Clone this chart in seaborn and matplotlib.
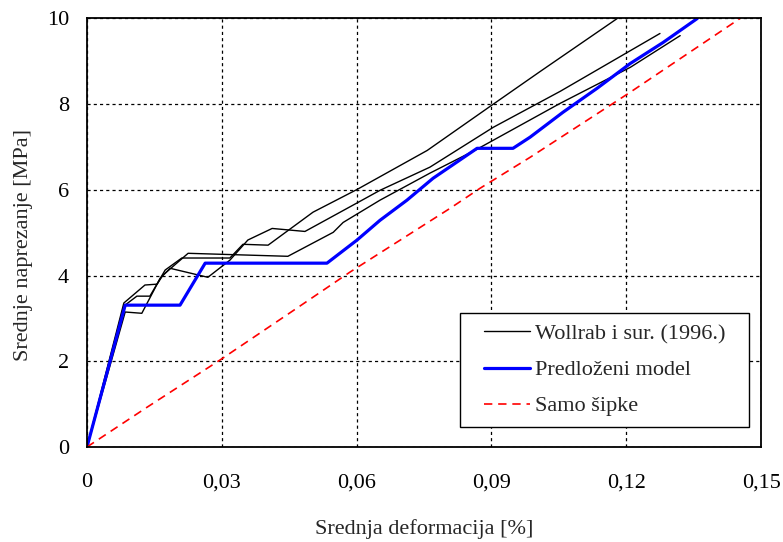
import matplotlib
matplotlib.use("Agg")
import matplotlib.pyplot as plt
import seaborn as sns
import pandas as pd
from matplotlib.path import Path

# Wollrab i sur. (1996.) - three test curves (strain %, stress MPa)
wollrab_a_x = [0, 0.0082, 0.0111, 0.0140, 0.0174, 0.0211, 0.0318, 0.0347, 0.0403,
               0.0503, 0.0601, 0.0757, 0.0904, 0.1008, 0.1180]
wollrab_a_y = [0, 3.29, 3.52, 3.52, 4.13, 4.41, 4.41, 4.73, 4.71,
               5.48, 6.01, 6.92, 8.00, 8.76, 10.0]

wollrab_b_x = [0, 0.0085, 0.0122, 0.0163, 0.0185, 0.0269, 0.0318, 0.0358, 0.0412,
               0.0485, 0.0600, 0.0652, 0.0763, 0.0904, 0.1053, 0.1275]
wollrab_b_y = [0, 3.15, 3.12, 3.94, 4.17, 3.96, 4.36, 4.83, 5.10,
               5.03, 5.69, 5.99, 6.53, 7.46, 8.30, 9.65]

wollrab_c_x = [0, 0.0082, 0.0129, 0.0156, 0.0169, 0.0225, 0.0447, 0.0548, 0.0570,
               0.0652, 0.0763, 0.0868, 0.1053, 0.1209, 0.1320]
wollrab_c_y = [0, 3.36, 3.78, 3.80, 4.01, 4.52, 4.45, 5.01, 5.24,
               5.76, 6.39, 6.95, 8.02, 8.86, 9.60]

# Predlozeni model
model_x = [0, 0.0085, 0.0207, 0.0263, 0.0534, 0.0601, 0.0652, 0.0712, 0.0770,
           0.0868, 0.0948, 0.0986, 0.1059, 0.1135, 0.1209, 0.1282, 0.1358]
model_y = [0, 3.31, 3.31, 4.29, 4.29, 4.83, 5.29, 5.76, 6.27,
           6.97, 6.97, 7.23, 7.81, 8.37, 8.95, 9.44, 10.0]

# Samo sipke
bars_x = [0, 0.0134, 0.0296, 0.0467, 0.0585, 0.0808, 0.0875, 0.0986, 0.1209, 0.1453]
bars_y = [0, 0.93, 2.03, 3.24, 4.08, 5.57, 6.04, 6.76, 8.28, 10.0]

x_ticks = [0, 0.03, 0.06, 0.09, 0.12, 0.15]
x_tick_labels = ["0", "0,03", "0,06", "0,09", "0,12", "0,15"]
y_ticks = [0, 2, 4, 6, 8, 10]


def wide_square(x0, y0, width, height, mutation_size):
    # square legend frame with some extra room left and right
    dx = 0.6 * mutation_size
    x1 = x0 + width + dx
    x0 = x0 - dx
    y1 = y0 + height
    return Path([(x0, y0), (x1, y0), (x1, y1), (x0, y1), (x0, y0)], closed=True)


sns.set_style("white")
plt.rcParams["font.family"] = ["Liberation Serif", "DejaVu Serif"]

fig = plt.figure(figsize=(7.83, 5.42), dpi=100)
ax = fig.add_axes([0.1111, 0.1753, 0.8609, 0.7906])

curves = [(wollrab_a_x, wollrab_a_y), (wollrab_b_x, wollrab_b_y), (wollrab_c_x, wollrab_c_y)]
for i, (xs, ys) in enumerate(curves):
    df = pd.DataFrame({"x": xs, "y": ys})
    sns.lineplot(data=df, x="x", y="y", ax=ax, sort=False, estimator=None,
                 color="black", linewidth=1.0,
                 label="Wollrab i sur. (1996.)" if i == 0 else None)

sns.lineplot(data=pd.DataFrame({"x": model_x, "y": model_y}), x="x", y="y", ax=ax,
             sort=False, estimator=None, color="#0000ff", linewidth=2.3,
             label="Predloženi model")

sns.lineplot(data=pd.DataFrame({"x": bars_x, "y": bars_y}), x="x", y="y", ax=ax,
             sort=False, estimator=None, color="#ff0000", linewidth=1.2,
             linestyle=(0, (5, 3.5)), label="Samo šipke")

ax.set_xlim(0, 0.15)
ax.set_ylim(0, 10)
ax.set_xticks(x_ticks)
ax.set_xticklabels(x_tick_labels)
ax.set_yticks(y_ticks)
ax.tick_params(direction="in", length=5, width=1, colors="black", labelsize=16)
ax.tick_params(axis="x", pad=19)
ax.tick_params(axis="y", pad=13)

ax.grid(True, color="black", linestyle=(0, (2.5, 2.5)), linewidth=0.9)
for s in ax.spines.values():
    s.set_color("black")
    s.set_linewidth(1.3)

ax.set_xlabel("Srednja deformacija [%]", fontsize=16, labelpad=19)
ax.set_ylabel("Srednje naprezanje [MPa]", fontsize=16)
ax.yaxis.set_label_coords(-0.080, 0.471)

leg = ax.legend(loc="lower right", bbox_to_anchor=(0.9625, 0.047), fontsize=16,
                frameon=True, fancybox=False, framealpha=1, edgecolor="black",
                handlelength=2.1, labelspacing=0.7, borderpad=0.47, handletextpad=0.2,
                borderaxespad=0)
leg.get_frame().set_linewidth(1.0)
leg.get_frame().set_boxstyle(wide_square)

fig.savefig("out.png", dpi=100)
